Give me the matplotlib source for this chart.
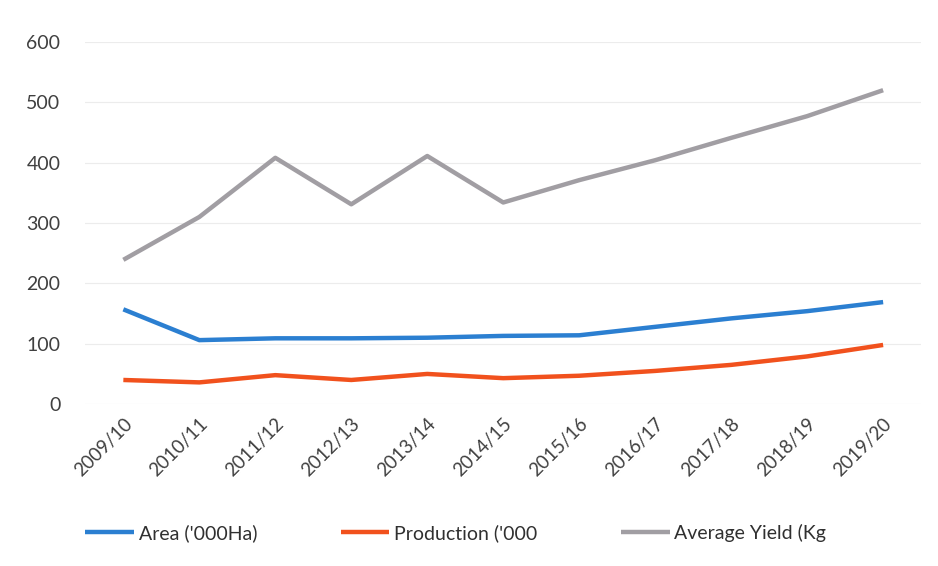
import matplotlib.pyplot as plt

plt.rcParams['font.family'] = ['Lato', 'DejaVu Sans']

# seasons on the x axis
seasons = ['2009/10', '2010/11', '2011/12', '2012/13', '2013/14', '2014/15',
           '2015/16', '2016/17', '2017/18', '2018/19', '2019/20']

# series values
area = [157, 106, 109, 109, 110, 113, 114, 128, 142, 154, 169]
production = [40, 36, 48, 40, 50, 43, 47, 55, 65, 79, 98]
avg_yield = [239, 310, 408, 331, 411, 334, 371, 404, 441, 477, 520]

labels = ["Area ('000Ha)", "Production ('000", "Average Yield (Kg"]
colors = ['#2b7fd1', '#f1511d', '#a19ea3']

fig = plt.figure(figsize=(9.38, 5.66), dpi=100)
ax = fig.add_axes([0.091, 0.286, 0.891, 0.640])

x = range(len(seasons))
for vals, lab, col in zip([area, production, avg_yield], labels, colors):
    ax.plot(x, vals, color=col, lw=3.2, label=lab, solid_capstyle='butt')

ax.set_xlim(-0.5, len(seasons) - 0.5)
ax.set_ylim(0, 600)
ax.set_yticks(range(0, 601, 100))
ax.set_xticks(list(x))
ax.set_xticklabels(seasons, rotation=45, ha='right', rotation_mode='anchor')
ax.tick_params(length=0, labelsize=14, colors='#404040')
ax.tick_params(axis='y', pad=18)
ax.tick_params(axis='x', pad=8, labelsize=13.5)
ax.grid(axis='y', color='#ececec', lw=0.8)
for s in ax.spines.values():
    s.set_visible(False)

fig.legend(loc='center left', bbox_to_anchor=(0.072, 0.058), ncol=3,
           frameon=False, fontsize=14, handlelength=2.5,
           handletextpad=0.25, columnspacing=4.3, labelcolor='#303030')

fig.savefig('out.png', dpi=100)
